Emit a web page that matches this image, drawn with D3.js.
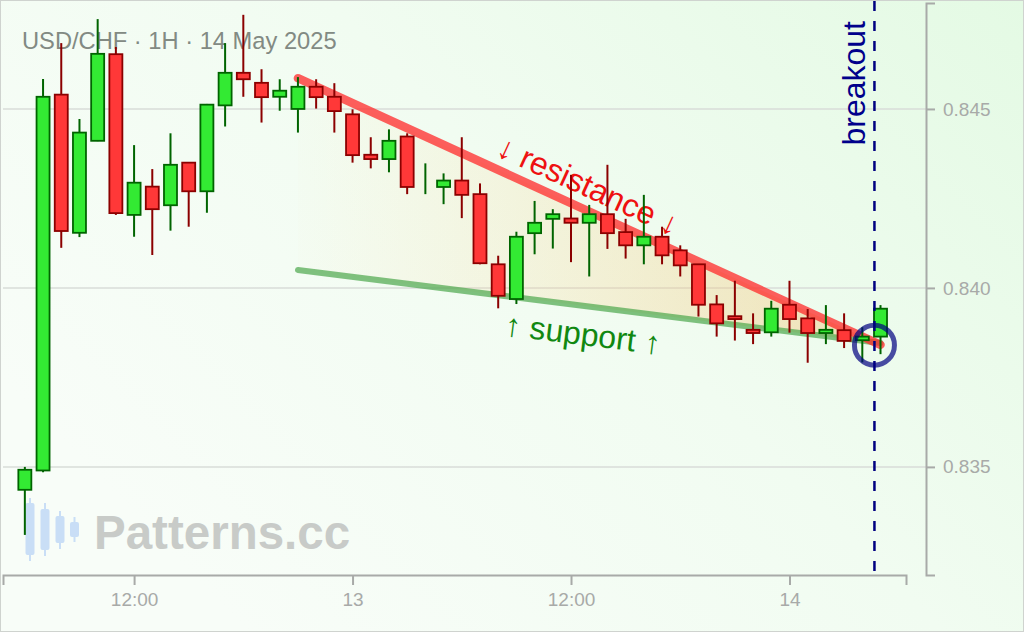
<!DOCTYPE html>
<html>
<head>
<meta charset="utf-8">
<script src="https://cdn.jsdelivr.net/npm/d3@7"></script>
<style>
body { margin: 0; background: #f2fbf2; }
svg { display: block; font-family: "Liberation Sans", Arial, sans-serif; }
</style>
</head>
<body>
<div id="chart"></div>
<script>
// hourly candles, USD/CHF
var times = [
    '2025-05-12T06:00', '2025-05-12T07:00', '2025-05-12T08:00', '2025-05-12T09:00',
    '2025-05-12T10:00', '2025-05-12T11:00', '2025-05-12T12:00', '2025-05-12T13:00',
    '2025-05-12T14:00', '2025-05-12T15:00', '2025-05-12T16:00', '2025-05-12T17:00',
    '2025-05-12T18:00', '2025-05-12T19:00', '2025-05-12T20:00', '2025-05-12T21:00',
    '2025-05-12T22:00', '2025-05-12T23:00', '2025-05-13T00:00', '2025-05-13T01:00',
    '2025-05-13T02:00', '2025-05-13T03:00', '2025-05-13T04:00', '2025-05-13T05:00',
    '2025-05-13T06:00', '2025-05-13T07:00', '2025-05-13T08:00', '2025-05-13T09:00',
    '2025-05-13T10:00', '2025-05-13T11:00', '2025-05-13T12:00', '2025-05-13T13:00',
    '2025-05-13T14:00', '2025-05-13T15:00', '2025-05-13T16:00', '2025-05-13T17:00',
    '2025-05-13T18:00', '2025-05-13T19:00', '2025-05-13T20:00', '2025-05-13T21:00',
    '2025-05-13T22:00', '2025-05-13T23:00', '2025-05-14T00:00', '2025-05-14T01:00',
    '2025-05-14T02:00', '2025-05-14T03:00', '2025-05-14T04:00', '2025-05-14T05:00'
];
var openPrices = [
    0.83436, 0.83490, 0.84540, 0.84154, 0.84411, 0.84653, 0.84204, 0.84283,
    0.84231, 0.84350, 0.84270, 0.84510, 0.84601, 0.84573, 0.84534, 0.84500,
    0.84562, 0.84534, 0.84485, 0.84372, 0.84360, 0.84423, 0.84302, 0.84282,
    0.84300, 0.84262, 0.84066, 0.83969, 0.84153, 0.84193, 0.84194, 0.84182,
    0.84206, 0.84156, 0.84119, 0.84143, 0.84105, 0.84066, 0.83954, 0.83921,
    0.83883, 0.83876, 0.83953, 0.83915, 0.83874, 0.83882, 0.83854, 0.83864
];
var highPrices = [
    0.83500, 0.84584, 0.84684, 0.84472, 0.84751, 0.84673, 0.84399, 0.84332,
    0.84432, 0.84350, 0.84514, 0.84684, 0.84763, 0.84611, 0.84583, 0.84589,
    0.84583, 0.84572, 0.84499, 0.84421, 0.84443, 0.84432, 0.84348, 0.84320,
    0.84421, 0.84292, 0.84090, 0.84157, 0.84243, 0.84220, 0.84316, 0.84232,
    0.84344, 0.84193, 0.84260, 0.84171, 0.84119, 0.84066, 0.83980, 0.84020,
    0.83929, 0.83964, 0.84020, 0.83941, 0.83952, 0.83929, 0.83890, 0.83952
];
var lowPrices = [
    0.83310, 0.83485, 0.84112, 0.84142, 0.84410, 0.84204, 0.84143, 0.84092,
    0.84160, 0.84171, 0.84210, 0.84451, 0.84534, 0.84462, 0.84495, 0.84434,
    0.84501, 0.84434, 0.84350, 0.84334, 0.84323, 0.84262, 0.84262, 0.84234,
    0.84195, 0.84066, 0.83943, 0.83955, 0.84094, 0.84110, 0.84072, 0.84032,
    0.84109, 0.84082, 0.84066, 0.84066, 0.84032, 0.83920, 0.83864, 0.83853,
    0.83843, 0.83864, 0.83875, 0.83791, 0.83843, 0.83832, 0.83792, 0.83815
];
var closePrices = [
    0.83492, 0.84534, 0.84159, 0.84434, 0.84654, 0.84209, 0.84294, 0.84220,
    0.84344, 0.84270, 0.84512, 0.84601, 0.84583, 0.84533, 0.84551, 0.84562,
    0.84533, 0.84494, 0.84371, 0.84360, 0.84411, 0.84282, 0.84302, 0.84300,
    0.84260, 0.84069, 0.83978, 0.84143, 0.84182, 0.84206, 0.84182, 0.84206,
    0.84153, 0.84119, 0.84143, 0.84091, 0.84063, 0.83953, 0.83901, 0.83913,
    0.83874, 0.83942, 0.83913, 0.83874, 0.83883, 0.83852, 0.83864, 0.83942
];

// trend lines of the falling wedge
var resistanceLine = [['2025-05-12T21:00', 0.84586], ['2025-05-14T05:00', 0.83841]];
var supportLine = [['2025-05-12T21:00', 0.84050], ['2025-05-14T05:00', 0.83846]];
var breakoutTime = '2025-05-14T04:40';
var breakoutPrice = 0.83840;

// axes
var xDomain = ['2025-05-12T04:48', '2025-05-14T06:24'];
var yDomain = [0.83198, 0.84796];
var xTickTimes = ['2025-05-12T12:00', '2025-05-13T00:00', '2025-05-13T12:00', '2025-05-14T00:00'];
var yTickValues = [0.835, 0.840, 0.845];

var titleText = 'USD/CHF · 1H · 14 May 2025';
var resistanceText = '↓ resistance ↓';
var supportText = '↑ support ↑';
var breakoutText = 'breakout';
var watermarkText = 'Patterns.cc';

var width = 1024;
var height = 632;
var plot = { left: 3, right: 906, top: 3, bottom: 575, yAxisX: 926 };

var parseTime = d3.timeParse('%Y-%m-%dT%H:%M');

var candles = times.map(function (t, i) {
    return {
        t: parseTime(t),
        o: openPrices[i],
        h: highPrices[i],
        l: lowPrices[i],
        c: closePrices[i]
    };
});

var svg = d3.select('#chart')
    .append('svg')
    .attr('width', width)
    .attr('height', height);

var defs = svg.append('defs');

var bg = defs.append('linearGradient')
    .attr('id', 'bg')
    .attr('x1', '0').attr('y1', '0.6')
    .attr('x2', '1').attr('y2', '0');
bg.append('stop').attr('offset', '0').attr('stop-color', '#f8fdf8');
bg.append('stop').attr('offset', '0.5').attr('stop-color', '#f1fcf1');
bg.append('stop').attr('offset', '1').attr('stop-color', '#e4fae4');

var wedgeFill = defs.append('linearGradient')
    .attr('id', 'wedge')
    .attr('x1', '0').attr('y1', '0')
    .attr('x2', '1').attr('y2', '0');
wedgeFill.append('stop').attr('offset', '0').attr('stop-color', '#ffd890').attr('stop-opacity', 0.02);
wedgeFill.append('stop').attr('offset', '1').attr('stop-color', '#f0c070').attr('stop-opacity', 0.45);

svg.append('rect')
    .attr('width', width)
    .attr('height', height)
    .attr('fill', 'url(#bg)');

var x = d3.scaleTime()
    .domain(xDomain.map(parseTime))
    .range([plot.left, plot.right]);
var y = d3.scaleLinear()
    .domain(yDomain)
    .range([plot.bottom, plot.top]);

// grid
svg.append('g')
    .selectAll('line')
    .data(yTickValues)
    .enter()
    .append('line')
    .attr('x1', plot.left)
    .attr('x2', plot.yAxisX)
    .attr('y1', function (d) { return y(d); })
    .attr('y2', function (d) { return y(d); })
    .attr('stroke', '#d9ddd9')
    .attr('stroke-width', 1.5);

// axes
var xAxis = d3.axisBottom(x)
    .tickValues(xTickTimes.map(parseTime))
    .tickSize(10)
    .tickPadding(8)
    .tickFormat(function (d) {
        return d.getHours() == 0 ? d3.timeFormat('%-d')(d) : d3.timeFormat('%H:%M')(d);
    });
var yAxis = d3.axisRight(y)
    .tickValues(yTickValues)
    .tickSize(9)
    .tickPadding(8)
    .tickFormat(d3.format('.3f'));

svg.append('g')
    .attr('class', 'axis')
    .attr('transform', 'translate(0,' + plot.bottom + ')')
    .call(xAxis);
svg.append('g')
    .attr('class', 'axis')
    .attr('transform', 'translate(' + plot.yAxisX + ',0)')
    .call(yAxis);

svg.selectAll('.axis path, .axis line')
    .attr('stroke', '#a8aaa8')
    .attr('stroke-width', 2);
svg.selectAll('.axis text')
    .attr('fill', '#a8aaa8')
    .attr('font-size', 19)
    .attr('font-family', '"Liberation Sans", Arial, sans-serif');

// title
svg.append('text')
    .attr('x', 22)
    .attr('y', 49)
    .attr('font-size', 23.7)
    .attr('fill', '#828a83')
    .text(titleText);

// watermark logo
var logo = svg.append('g').attr('fill', '#c9def6').attr('stroke', '#c9def6');
[[30, 498, 561, 503, 555], [45, 503, 556, 509, 550], [60, 511, 549, 516, 543], [74.5, 517, 542, 522, 537]].forEach(function (c) {
    logo.append('line')
        .attr('x1', c[0]).attr('x2', c[0])
        .attr('y1', c[1]).attr('y2', c[2])
        .attr('stroke-width', 2);
    logo.append('rect')
        .attr('x', c[0] - 4.5).attr('y', c[3])
        .attr('width', 9).attr('height', c[4] - c[3])
        .attr('rx', 2)
        .attr('stroke', 'none');
});
svg.append('text')
    .attr('x', 94)
    .attr('y', 549)
    .attr('font-size', 47.5)
    .attr('font-weight', 'bold')
    .attr('fill', '#c8cbc8')
    .text(watermarkText);

// wedge
function pt(d) { return [x(parseTime(d[0])), y(d[1])]; }
var r0 = pt(resistanceLine[0]), r1 = pt(resistanceLine[1]);
var s0 = pt(supportLine[0]), s1 = pt(supportLine[1]);

svg.append('path')
    .attr('d', 'M' + r0 + 'L' + r1 + 'L' + s1 + 'L' + s0 + 'Z')
    .attr('fill', 'url(#wedge)');

var line = d3.line()
    .x(function (d) { return x(parseTime(d[0])); })
    .y(function (d) { return y(d[1]); });

svg.append('path')
    .attr('d', line(supportLine))
    .attr('fill', 'none')
    .attr('stroke', '#4ca64c')
    .attr('stroke-opacity', 0.7)
    .attr('stroke-width', 6)
    .attr('stroke-linecap', 'round');

svg.append('path')
    .attr('d', line(resistanceLine))
    .attr('fill', 'none')
    .attr('stroke', '#ff2a2a')
    .attr('stroke-opacity', 0.75)
    .attr('stroke-width', 8.5)
    .attr('stroke-linecap', 'round');

// labels along the lines
function angle(a, b) { return Math.atan2(b[1] - a[1], b[0] - a[0]) * 180 / Math.PI; }
function along(a, b, f) { return [a[0] + (b[0] - a[0]) * f, a[1] + (b[1] - a[1]) * f]; }

var rp = along(r0, r1, 0.482);
svg.append('text')
    .attr('transform', 'translate(' + rp + ') rotate(' + angle(r0, r1) + ')')
    .attr('text-anchor', 'middle')
    .attr('dy', -12)
    .attr('font-size', 32)
    .attr('fill', '#ee1111')
    .text(resistanceText);

var sp = along(s0, s1, 0.495);
svg.append('text')
    .attr('transform', 'translate(' + sp + ') rotate(' + angle(s0, s1) + ')')
    .attr('text-anchor', 'middle')
    .attr('dy', 39)
    .attr('font-size', 32)
    .attr('fill', '#118811')
    .text(supportText);

// candles
var bodyW = 13;
var cg = svg.append('g')
    .selectAll('g')
    .data(candles)
    .enter()
    .append('g');

cg.append('line')
    .attr('x1', function (d) { return x(d.t); })
    .attr('x2', function (d) { return x(d.t); })
    .attr('y1', function (d) { return y(d.h); })
    .attr('y2', function (d) { return y(d.l); })
    .attr('stroke', function (d) { return d.c >= d.o ? '#006400' : '#8b0000'; })
    .attr('stroke-width', 2);

cg.append('rect')
    .attr('x', function (d) { return x(d.t) - bodyW / 2; })
    .attr('y', function (d) { return y(Math.max(d.o, d.c)); })
    .attr('width', bodyW)
    .attr('height', function (d) { return Math.abs(y(d.o) - y(d.c)); })
    .attr('fill', function (d) { return d.c >= d.o ? '#33ea33' : '#ff3838'; })
    .attr('stroke', function (d) { return d.c >= d.o ? '#006400' : '#8b0000'; })
    .attr('stroke-width', 1.8);

// breakout marker
var bx = x(parseTime(breakoutTime));
svg.append('line')
    .attr('x1', bx).attr('x2', bx)
    .attr('y1', 1).attr('y2', plot.bottom - 4)
    .attr('stroke', '#000080')
    .attr('stroke-width', 2.5)
    .attr('stroke-dasharray', '10,10');

svg.append('circle')
    .attr('cx', bx)
    .attr('cy', y(breakoutPrice))
    .attr('r', 20)
    .attr('fill', 'none')
    .attr('stroke', '#000080')
    .attr('stroke-opacity', 0.7)
    .attr('stroke-width', 5);

svg.append('text')
    .attr('transform', 'translate(' + (bx - 9) + ',21) rotate(-90)')
    .attr('text-anchor', 'end')
    .attr('font-size', 32)
    .attr('fill', '#00008b')
    .text(breakoutText);

// frame
svg.append('rect')
    .attr('x', 0.5).attr('y', 0.5)
    .attr('width', width - 1).attr('height', height - 1)
    .attr('fill', 'none')
    .attr('stroke', '#cfd3cf');
</script>
</body>
</html>
